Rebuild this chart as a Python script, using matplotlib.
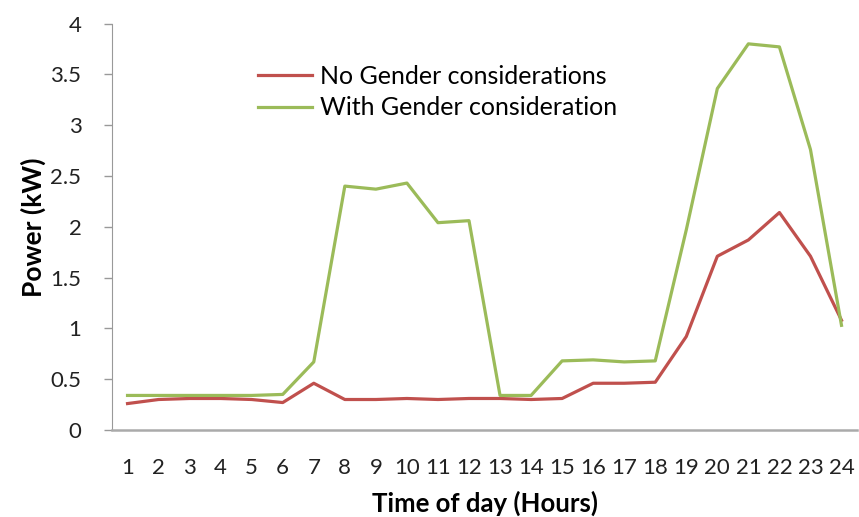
import matplotlib
matplotlib.use("Agg")
import matplotlib.pyplot as plt

hours = list(range(1, 25))
no_gender = [0.26, 0.30, 0.31, 0.31, 0.30, 0.27, 0.46, 0.30, 0.30, 0.31, 0.30, 0.31,
             0.31, 0.30, 0.31, 0.46, 0.46, 0.47, 0.92, 1.71, 1.87, 2.14, 1.71, 1.08]
with_gender = [0.34, 0.34, 0.34, 0.34, 0.34, 0.35, 0.67, 2.40, 2.37, 2.43, 2.04, 2.06,
               0.34, 0.34, 0.68, 0.69, 0.67, 0.68, 1.97, 3.36, 3.80, 3.77, 2.76, 1.03]
labels = ["No Gender considerations", "With Gender consideration"]

plt.rcParams['font.family'] = ['Lato', 'DejaVu Sans']

fig = plt.figure(figsize=(8.59, 5.17), dpi=100)
ax = fig.add_axes([0.1304, 0.1683, 0.8673, 0.7862])

pos = list(range(len(hours)))
ax.plot(pos, no_gender, color="#C0504D", lw=2.3, label=labels[0])
ax.plot(pos, with_gender, color="#9BBB59", lw=2.3, label=labels[1])

ax.set_xlim(-0.5, len(hours) - 0.5)
ax.set_ylim(0, 4)
ax.set_xticks(pos)
ax.set_xticklabels([str(h) for h in hours], fontsize=16, color="#222222")
ax.set_yticks([0, 0.5, 1, 1.5, 2, 2.5, 3, 3.5, 4])
ax.set_yticklabels(["0", "0.5", "1", "1.5", "2", "2.5", "3", "3.5", "4"], fontsize=16, color="#222222")
ax.tick_params(axis="x", length=0, pad=20)
ax.tick_params(axis="y", length=6, width=1, color="#999999", pad=16)

for s in ["top", "right"]:
    ax.spines[s].set_visible(False)
ax.spines["left"].set_color("#999999")
ax.spines["bottom"].set_color("#AAAAAA")
ax.spines["bottom"].set_linewidth(1.8)

ax.set_xlabel("Time of day (Hours)", fontsize=18.5, fontweight="bold", labelpad=9)
ax.set_ylabel("Power (kW)", fontsize=19, fontweight="bold", labelpad=3)

ax.legend(loc="upper left", bbox_to_anchor=(0.196, 0.898), frameon=False,
          fontsize=18, handlelength=2.15, handletextpad=0.32, labelspacing=0.34,
          borderpad=0, borderaxespad=0)

fig.savefig("out.png", dpi=100)
